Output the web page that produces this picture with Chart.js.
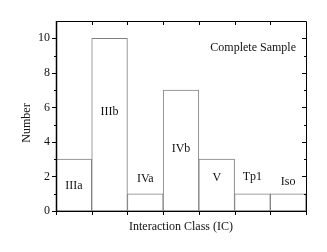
<!DOCTYPE html>
<html>
<head>
<meta charset="utf-8">
<script src="https://cdn.jsdelivr.net/npm/chart.js@4/dist/chart.umd.min.js"></script>
<style>
  html, body { margin: 0; padding: 0; background: #fff; }
</style>
</head>
<body>
<canvas id="chart" width="327" height="252"></canvas>
<script>
const classes = ['IIIa', 'IIIb', 'IVa', 'IVb', 'V', 'Tp1', 'Iso'];
const counts = [3, 10, 1, 7, 3, 1, 1];
const yTicks = [0, 2, 4, 6, 8, 10];
const yMinorTicks = [1, 3, 5, 7, 9];
// height (in counts) where each class name sits inside its bar
const labelLevels = [1.45, 5.75, 1.85, 3.6, 1.9, 1.95, 1.7];

const FONT = '12px "Liberation Serif", "Times New Roman", serif';

const framePlugin = {
    id: 'frame',
    afterDraw(chart) {
        const ctx = chart.ctx;
        const area = chart.chartArea;
        const xs = chart.scales.x;
        const ys = chart.scales.y;
        ctx.save();

        // class names inside bars
        ctx.font = FONT;
        ctx.fillStyle = '#111';
        ctx.textAlign = 'center';
        ctx.textBaseline = 'middle';
        classes.forEach((c, i) => {
            ctx.fillText(c, xs.getPixelForValue(i), ys.getPixelForValue(labelLevels[i]));
        });

        // frame
        ctx.strokeStyle = '#000';
        ctx.lineWidth = 1;
        const L = Math.round(area.left), R = Math.round(area.right);
        const T = Math.round(area.top), B = Math.round(area.bottom);
        ctx.beginPath();
        ctx.moveTo(L + 0.5, T + 0.5);
        ctx.lineTo(R + 0.5, T + 0.5);
        ctx.lineTo(R + 0.5, B + 0.5);
        ctx.lineTo(L + 0.5, B + 0.5);
        ctx.closePath();
        ctx.stroke();
        ctx.lineWidth = 1.5;
        ctx.beginPath();
        ctx.moveTo(L + 0.5, T);
        ctx.lineTo(L + 0.5, B + 1);
        ctx.stroke();

        // x ticks at class boundaries
        ctx.lineWidth = 1;
        ctx.beginPath();
        for (let i = 0; i <= classes.length; i++) {
            const px = Math.round(xs.getPixelForValue(i - 0.5)) + 0.5;
            ctx.moveTo(px, B);
            ctx.lineTo(px, B + 4);
            if (i > 0 && i < classes.length) {
                ctx.moveTo(px, T);
                ctx.lineTo(px, T + 4);
            }
        }
        ctx.stroke();

        // y ticks
        ctx.beginPath();
        yTicks.forEach(v => {
            const py = Math.round(ys.getPixelForValue(v)) + 0.5;
            ctx.moveTo(L - 4, py);
            ctx.lineTo(L, py);
            ctx.moveTo(R, py);
            ctx.lineTo(R - 4, py);
        });
        yMinorTicks.forEach(v => {
            const py = Math.round(ys.getPixelForValue(v)) + 0.5;
            ctx.moveTo(L - 2, py);
            ctx.lineTo(L, py);
            ctx.moveTo(R, py);
            ctx.lineTo(R - 2, py);
        });
        ctx.stroke();

        // y tick labels
        ctx.textAlign = 'right';
        yTicks.forEach(v => {
            ctx.fillText(String(v), L - 6, ys.getPixelForValue(v));
        });

        // titles
        ctx.textAlign = 'center';
        ctx.fillText('Interaction Class (IC)', (L + R) / 2, B + 16);
        ctx.save();
        ctx.translate(27, 123);
        ctx.rotate(-Math.PI / 2);
        ctx.fillText('Number', 0, 0);
        ctx.restore();

        ctx.textAlign = 'right';
        ctx.fillText('Complete Sample', R - 10, 48);

        ctx.restore();
    }
};

new Chart(document.getElementById('chart'), {
    type: 'bar',
    data: {
        labels: classes,
        datasets: [{
            data: counts,
            backgroundColor: '#fff',
            borderColor: '#808080',
            borderWidth: 1,
            borderSkipped: false,
            categoryPercentage: 1,
            barPercentage: 1
        }]
    },
    options: {
        responsive: false,
        animation: false,
        layout: {
            padding: { left: 56, right: 21, top: 21, bottom: 41 }
        },
        scales: {
            x: { display: false },
            y: { display: false, min: 0, max: 11 }
        },
        plugins: {
            legend: { display: false },
            tooltip: { enabled: false }
        }
    },
    plugins: [framePlugin]
});
</script>
</body>
</html>
